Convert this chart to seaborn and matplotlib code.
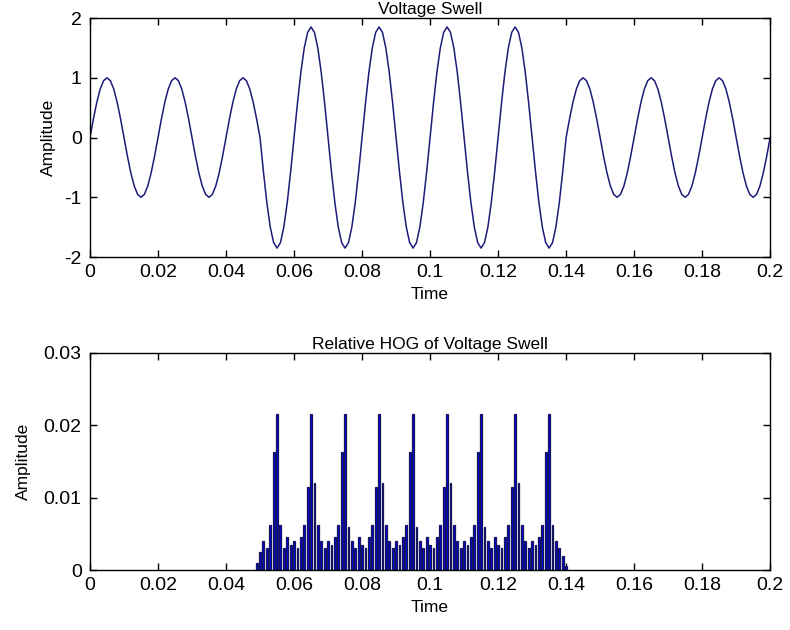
import numpy as np
import pandas as pd
import matplotlib
matplotlib.use("Agg")
import matplotlib.pyplot as plt
import seaborn as sns

# ---------------- data ----------------
# sampled voltage: 1 kHz sampling, 50 Hz -> 10 samples per half cycle
sample_period = 0.001
# shape of one half cycle (normalised samples 0..9 of a positive half wave)
half_cycle_shape = [0.0, 0.309, 0.588, 0.809, 0.951, 1.0, 0.951, 0.809, 0.588, 0.309]
# amplitude of each half cycle (sign alternates)
half_cycle_amplitude = [1, -1, 1, -1, 1,
                        -1.85, 1.85, -1.85, 1.85, -1.85, 1.85, -1.85, 1.85, -1.85,
                        1, -1, 1, -1, 1, -1]

# Relative HOG values (1 ms bins) from 0.049 s to 0.140 s
hog_start = 0.049
hog_values = [
    0.0010,
    # 0.050 - 0.059 (peak 0.055)
    0.0025, 0.0040, 0.0030, 0.0062, 0.0163, 0.0215, 0.0062, 0.0030, 0.0045, 0.0035,
    # 0.060 - 0.069 (peak 0.065)
    0.0040, 0.0030, 0.0045, 0.0062, 0.0115, 0.0215, 0.0120, 0.0062, 0.0040, 0.0030,
    # 0.070 - 0.079 (peak 0.075)
    0.0040, 0.0035, 0.0045, 0.0062, 0.0163, 0.0215, 0.0060, 0.0040, 0.0030, 0.0045,
    # 0.080 - 0.089 (peak 0.085)
    0.0035, 0.0030, 0.0045, 0.0062, 0.0115, 0.0215, 0.0120, 0.0062, 0.0040, 0.0030,
    # 0.090 - 0.099 (peak 0.095)
    0.0040, 0.0035, 0.0045, 0.0062, 0.0163, 0.0215, 0.0060, 0.0040, 0.0030, 0.0045,
    # 0.100 - 0.109 (peak 0.105)
    0.0035, 0.0030, 0.0045, 0.0062, 0.0115, 0.0215, 0.0120, 0.0062, 0.0040, 0.0030,
    # 0.110 - 0.119 (peak 0.115)
    0.0040, 0.0035, 0.0045, 0.0062, 0.0163, 0.0215, 0.0060, 0.0040, 0.0030, 0.0045,
    # 0.120 - 0.129 (peak 0.125)
    0.0035, 0.0030, 0.0045, 0.0062, 0.0115, 0.0215, 0.0120, 0.0062, 0.0040, 0.0030,
    # 0.130 - 0.140 (peak 0.135)
    0.0040, 0.0035, 0.0045, 0.0062, 0.0163, 0.0215, 0.0062, 0.0040, 0.0030, 0.0020,
    0.0005,
]

x_ticks = [0, 0.02, 0.04, 0.06, 0.08, 0.1, 0.12, 0.14, 0.16, 0.18, 0.2]
x_tick_labels = ["0", "0.02", "0.04", "0.06", "0.08", "0.1", "0.12", "0.14", "0.16", "0.18", "0.2"]
top_y_ticks = [-2, -1, 0, 1, 2]
top_y_labels = ["-2", "-1", "0", "1", "2"]
bot_y_ticks = [0, 0.01, 0.02, 0.03]
bot_y_labels = ["0", "0.01", "0.02", "0.03"]

# ---------------- build tables ----------------
signal = []
for amp in half_cycle_amplitude:
    signal.extend([amp * s for s in half_cycle_shape])
signal.append(0.0)
time = np.arange(len(signal)) * sample_period
wave_df = pd.DataFrame({"Time": time, "Amplitude": signal})

hog_time = np.round(hog_start + np.arange(len(hog_values)) * sample_period, 4)
hog_df = pd.DataFrame({"Time": hog_time, "Amplitude": hog_values})

# ---------------- style ----------------
sns.set_theme(style="white")
plt.rcParams["font.family"] = ["Liberation Sans", "DejaVu Sans"]
plt.rcParams["axes.edgecolor"] = "black"
plt.rcParams["axes.linewidth"] = 1.0
plt.rcParams["text.color"] = "black"
plt.rcParams["axes.labelcolor"] = "black"
plt.rcParams["axes.titlecolor"] = "black"

fig = plt.figure(figsize=(7.9, 6.3), dpi=100)
ax1 = fig.add_axes([0.1139, 0.592, 0.861, 0.3794])
ax2 = fig.add_axes([0.1139, 0.0952, 0.861, 0.3445])

line_color = "#1c1c78"
sns.lineplot(data=wave_df, x="Time", y="Amplitude", ax=ax1, color=line_color, linewidth=1.1)

sns.barplot(data=hog_df, x="Time", y="Amplitude", ax=ax2, native_scale=True,
            color="#0000ee", edgecolor="#15155e", linewidth=0.9, width=0.55,
            saturation=1, errorbar=None)

tick_fs = 14
lab_fs = 12.5
for ax, yt, yl, ylim in [(ax1, top_y_ticks, top_y_labels, (-2, 2)),
                         (ax2, bot_y_ticks, bot_y_labels, (0, 0.03))]:
    ax.set_xlim(0, 0.2)
    ax.set_ylim(*ylim)
    ax.set_xticks(x_ticks)
    ax.set_xticklabels(x_tick_labels, fontsize=tick_fs)
    ax.set_yticks(yt)
    ax.set_yticklabels(yl, fontsize=tick_fs)
    ax.tick_params(direction="in", length=5, width=1, top=True, right=True,
                   bottom=True, left=True, colors="black")
    ax.tick_params(axis="x", pad=5)
    ax.tick_params(axis="y", pad=6)
    ax.set_xlabel("Time", fontsize=lab_fs, labelpad=4, color="black")
    ax.set_ylabel("Amplitude", fontsize=lab_fs, color="black")
    for s in ax.spines.values():
        s.set_visible(True)
        s.set_color("black")

ax1.yaxis.set_label_coords(-0.05, 0.5)
ax2.yaxis.set_label_coords(-0.087, 0.5)

ax1.set_title("Voltage Swell", fontsize=lab_fs, pad=3, color="black")
ax2.set_title("Relative HOG of Voltage Swell", fontsize=lab_fs, pad=3, color="black")

fig.savefig("out.png", dpi=100, facecolor="white")
